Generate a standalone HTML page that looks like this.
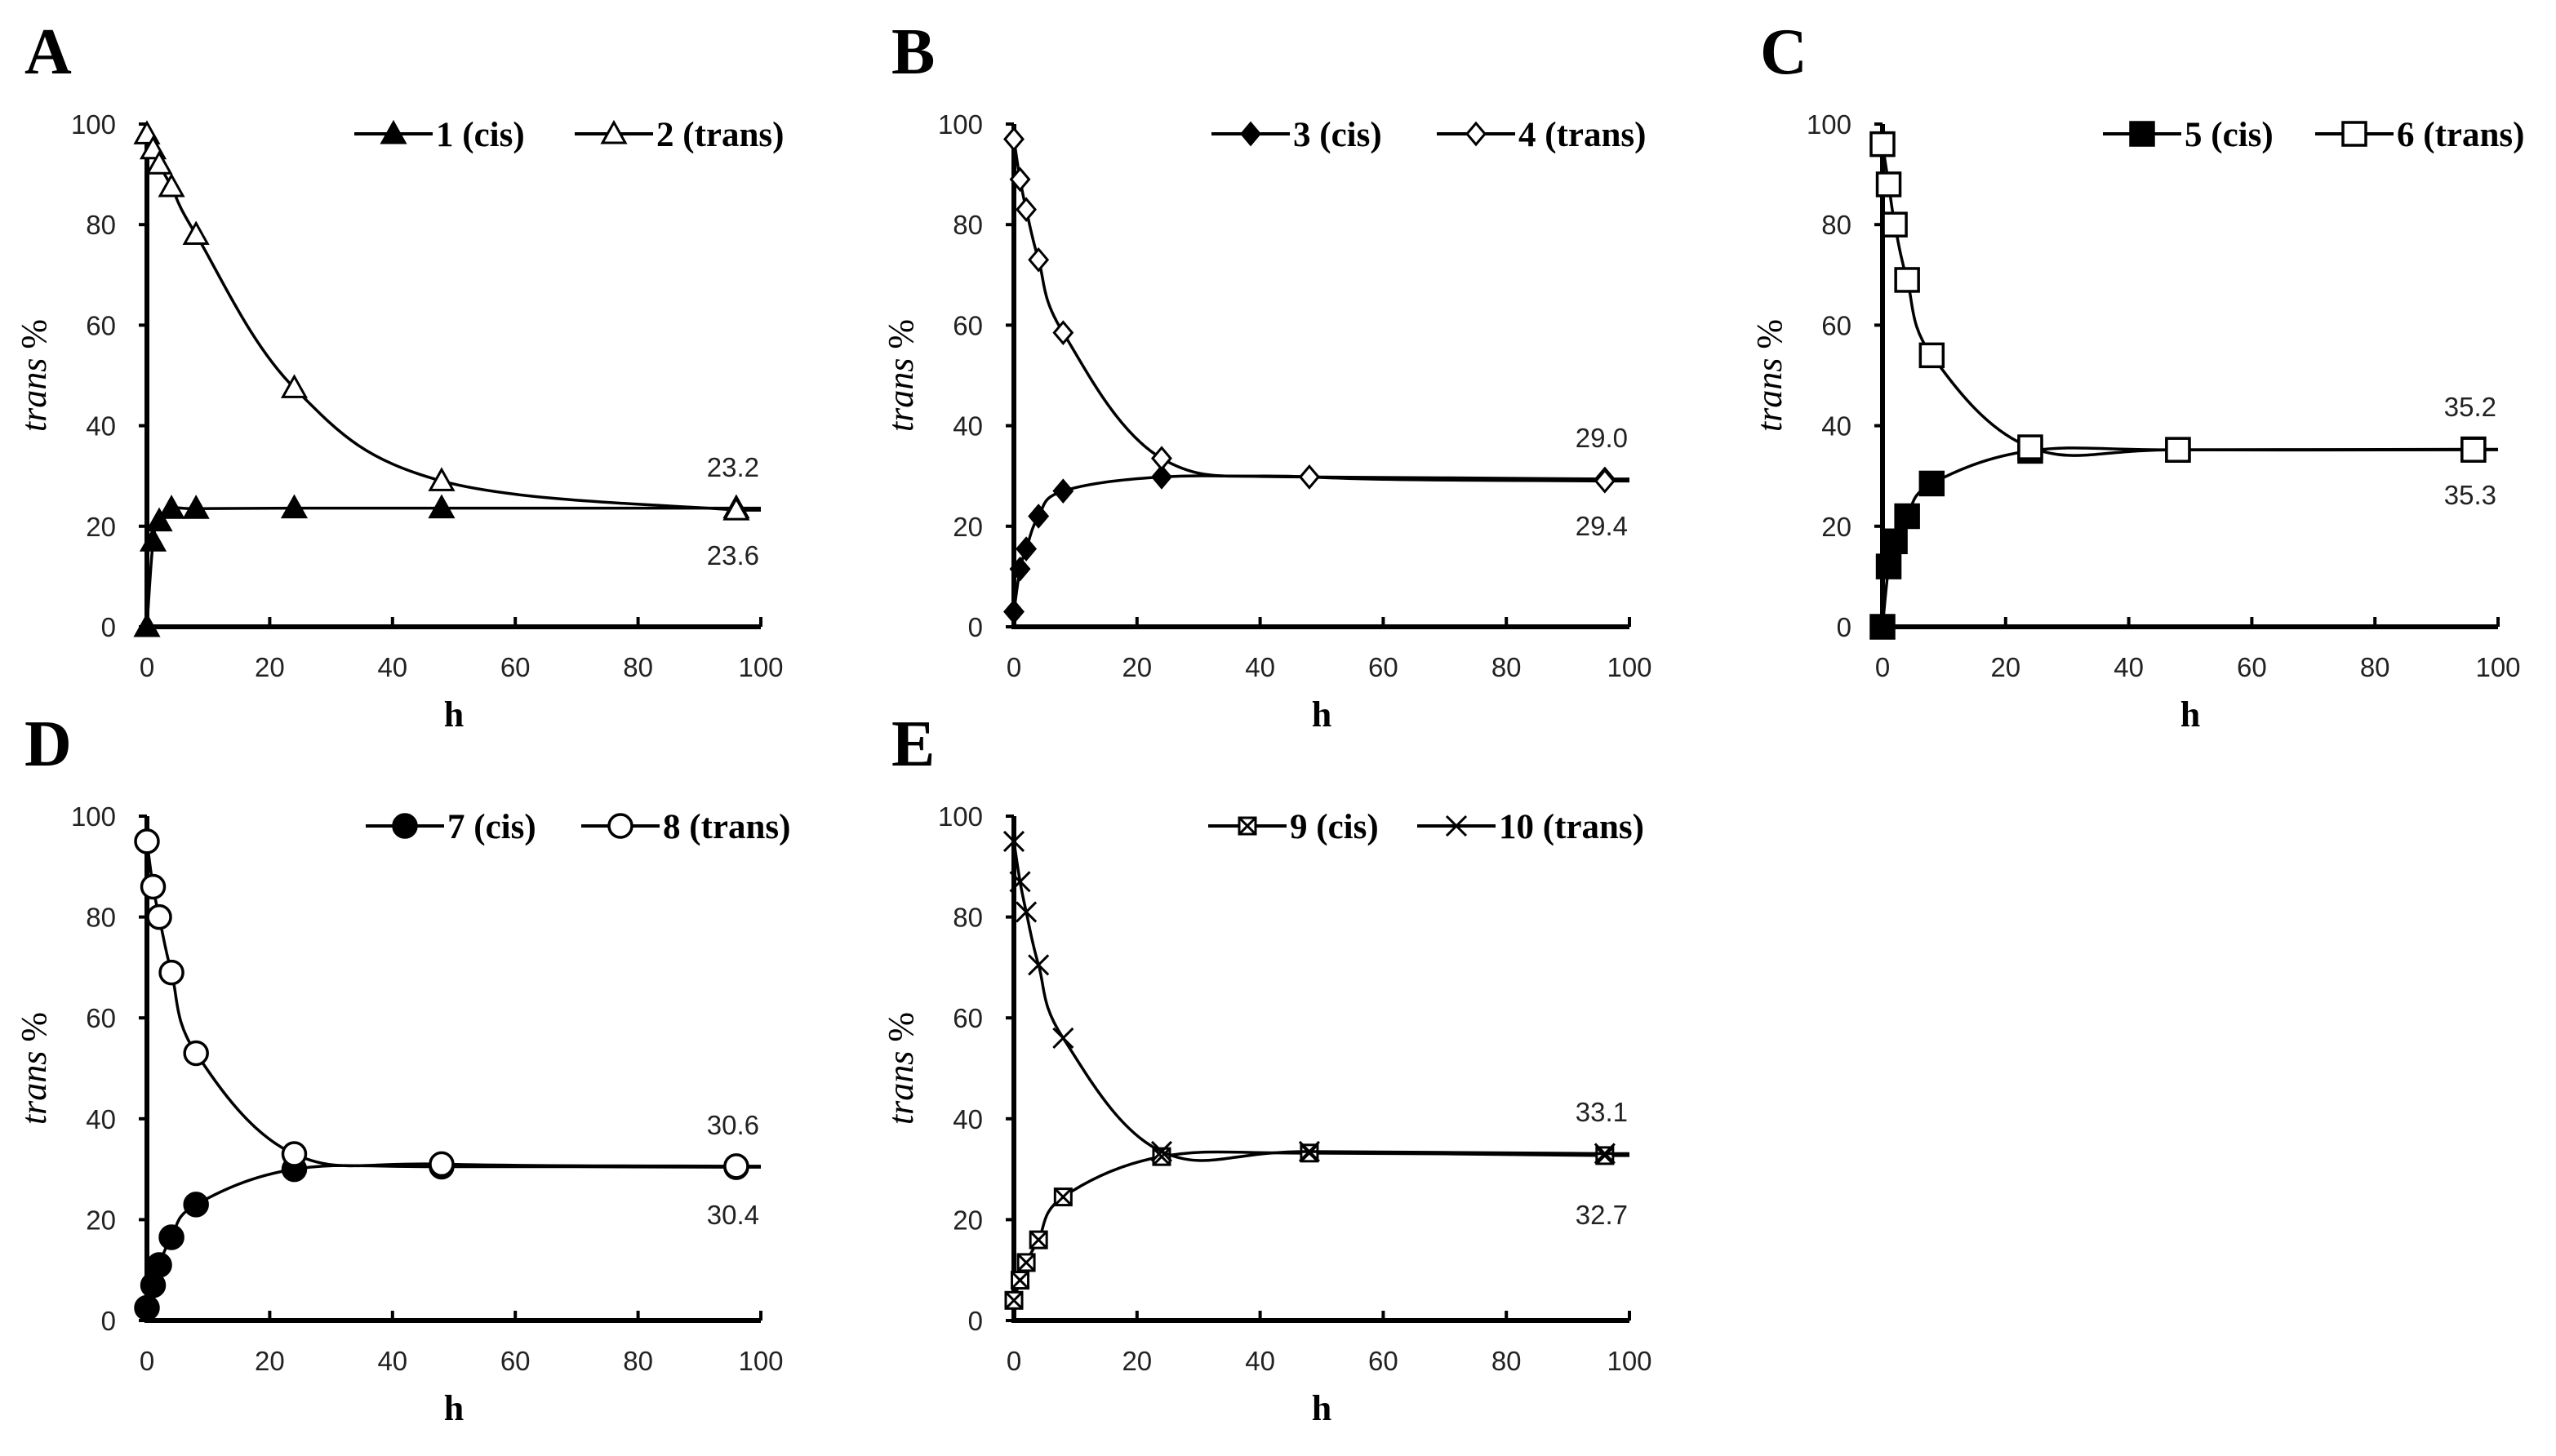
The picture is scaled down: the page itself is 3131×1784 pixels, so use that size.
<!DOCTYPE html>
<html><head><meta charset="utf-8">
<style>
html,body{margin:0;padding:0;background:#fff;}
svg{display:block;}
</style></head>
<body>
<svg id="fig" width="3131" height="1784" viewBox="0 0 3131 1784" xmlns="http://www.w3.org/2000/svg">
</svg>
<script>
const hours = [0,1,2,4,8,24,48,96];
const xTicks = [0,20,40,60,80,100];
const yTicks = [0,20,40,60,80,100];
const panelLetters = ['A','B','C','D','E'];
const cisLabels = ['1 (cis)','3 (cis)','5 (cis)','7 (cis)','9 (cis)'];
const transLabels = ['2 (trans)','4 (trans)','6 (trans)','8 (trans)','10 (trans)'];
const cisA = [0,17,21,23.5,23.5,23.6,23.6,23.6];
const transA = [98,95,92,87.5,78,47.5,29,23.2];
const cisB = [3,11.5,15.5,22,27,29.8,29.8,29.4];
const transB = [97,89,83,73,58.5,33.5,29.8,29.0];
const cisC = [0,12,17,22,28.5,35,35.2,35.3];
const transC = [96,88,80,69,54,35.7,35.2,35.2];
const cisD = [2.5,7,11,16.5,23,30,30.5,30.4];
const transD = [95,86,80,69,53,33,31,30.6];
const cisE = [4,8,11.5,16,24.5,32.5,33.2,32.7];
const transE = [95,87,81,70.5,56,33.5,33.5,33.1];
const endCis = ['23.6','29.4','35.3','30.4','32.7'];
const endTrans = ['23.2','29.0','35.2','30.6','33.1'];

const NS='http://www.w3.org/2000/svg';
const svg=document.getElementById('fig');
function mk(tag,attrs,parent){const e=document.createElementNS(NS,tag);for(const k in attrs)e.setAttribute(k,attrs[k]);(parent||svg).appendChild(e);return e;}

const panels=[
 {x0:180,x1:932,y0:768,y1:152,cis:cisA,trans:transA,mc:'tri',mt:'tri',leg:[434,704],ann:[680,572]},
 {x0:1242,x1:1996,y0:768,y1:152,cis:cisB,trans:transB,mc:'dia',mt:'dia',leg:[1484,1760],ann:[644,536]},
 {x0:2306,x1:3060,y0:768,y1:152,cis:cisC,trans:transC,mc:'sq',mt:'sq',leg:[2576,2836],ann:[606,498]},
 {x0:180,x1:932,y0:1618,y1:1000,cis:cisD,trans:transD,mc:'circ',mt:'circ',leg:[448,712],ann:[1488,1378]},
 {x0:1242,x1:1996,y0:1618,y1:1000,cis:cisE,trans:transE,mc:'sqx',mt:'x',leg:[1480,1736],ann:[1488,1362]}
];

function marker(g,type,x,y,filled){
  const f=filled?'#000':'#fff';
  let e;
  if(type==='tri'){e=mk('polygon',{points:`${x},${y-14} ${x+14},${y+11} ${x-14},${y+11}`,fill:f,stroke:'#000','stroke-width':3},g);}
  else if(type==='dia'){e=mk('polygon',{points:`${x},${y-13} ${x+11},${y} ${x},${y+13} ${x-11},${y}`,fill:f,stroke:'#000','stroke-width':3},g);}
  else if(type==='sq'){e=mk('rect',{x:x-14,y:y-14,width:28,height:28,fill:f,stroke:'#000','stroke-width':3.5},g);}
  else if(type==='circ'){e=mk('circle',{cx:x,cy:y,r:14,fill:f,stroke:'#000','stroke-width':3.5},g);}
  else if(type==='sqx'){e=mk('g',{},g);mk('rect',{x:x-10,y:y-10,width:20,height:20,fill:'#fff',stroke:'#000','stroke-width':3},e);mk('path',{d:`M${x-10},${y-10}L${x+10},${y+10}M${x+10},${y-10}L${x-10},${y+10}`,stroke:'#000','stroke-width':3},e);}
  else {e=mk('path',{d:`M${x-12},${y-12}L${x+12},${y+12}M${x+12},${y-12}L${x-12},${y+12}`,stroke:'#000','stroke-width':3,fill:'none'},g);}
  return e;
}
function smooth(pts){
  let d=`M${pts[0][0]},${pts[0][1]}`;
  for(let i=0;i<pts.length-1;i++){
    const p0=pts[Math.max(i-1,0)],p1=pts[i],p2=pts[i+1],p3=pts[Math.min(i+2,pts.length-1)];
    const t=0.18;
    const c1=[p1[0]+(p2[0]-p0[0])*t,p1[1]+(p2[1]-p0[1])*t];
    const c2=[p2[0]-(p3[0]-p1[0])*t,p2[1]-(p3[1]-p1[1])*t];
    d+=` C${c1[0]},${c1[1]} ${c2[0]},${c2[1]} ${p2[0]},${p2[1]}`;
  }
  return d;
}

panels.forEach((p,i)=>{
  const g=mk('g',{});
  
  
  const sx=v=>p.x0+(p.x1-p.x0)*v/100;
  const sy=v=>p.y0+(p.y1-p.y0)*v/100;
  const lt=mk('text',{x:p.x0-150,y:p.y1-62,'font-family':'Liberation Serif, serif','font-weight':'bold','font-size':80},g);
  lt.textContent=panelLetters[i];
  
  
  const ax=mk('path',{d:`M${p.x0},${p.y1}L${p.x0},${p.y0}L${p.x1},${p.y0}`,stroke:'#000','stroke-width':6,fill:'none'},g);
  
  
  xTicks.forEach(t=>{
    mk('line',{x1:sx(t),x2:sx(t),y1:p.y0,y2:p.y0-12,stroke:'#000','stroke-width':4},g);
    const tx=mk('text',{x:sx(t),y:p.y0+61,'text-anchor':'middle','font-family':'Liberation Sans, sans-serif','font-size':33,fill:'#222'},g);
    tx.textContent=t;
    
    
  });
  yTicks.forEach(t=>{
    mk('line',{x1:p.x0,x2:p.x0-10,y1:sy(t),y2:sy(t),stroke:'#000','stroke-width':4},g);
    const ty=mk('text',{x:p.x0-38,y:sy(t)+12,'text-anchor':'end','font-family':'Liberation Sans, sans-serif','font-size':33,fill:'#222'},g);
    ty.textContent=t;
    
    
  });
  const xl=mk('text',{x:(p.x0+p.x1)/2,y:p.y0+122,'text-anchor':'middle','font-family':'Liberation Serif, serif','font-weight':'bold','font-size':44},g);
  xl.textContent='h';
  
  
  const cy=(p.y0+p.y1)/2;
  const yl=mk('text',{x:p.x0-124,y:cy,transform:`rotate(-90 ${p.x0-124} ${cy})`,'text-anchor':'middle','font-family':'Liberation Serif, serif','font-size':44},g);
  yl.innerHTML='<tspan font-style="italic">trans</tspan> %';
  
  
  [['cis',p.cis,p.mc],['trans',p.trans,p.mt]].forEach(([nm,vals,m])=>{
    const pts=hours.map((h,k)=>[sx(h),sy(vals[k])]);
    const line=mk('path',{d:smooth(pts)+` L${p.x1},${pts[pts.length-1][1]}`,stroke:'#000','stroke-width':3.5,fill:'none'},g);
    
    
    pts.forEach(q=>{
      const mm=marker(g,m,q[0],q[1],nm==='cis');
      
      
    });
  });
  const ly=p.y1+12;
  [[p.leg[0],p.mc,cisLabels[i],true],[p.leg[1],p.mt,transLabels[i],false]].forEach(([lx,m,lab,filled])=>{
    const lg=mk('g',{},g);
    
    
    mk('line',{x1:lx,x2:lx+96,y1:ly,y2:ly,stroke:'#000','stroke-width':4},lg);
    marker(lg,m,lx+48,ly,filled);
    const t=mk('text',{x:lx+100,y:ly+15,'font-family':'Liberation Serif, serif','font-weight':'bold','font-size':43},lg);
    t.textContent=lab;
  });
  const a1=mk('text',{x:p.x1-2,y:p.ann[0]+12,'text-anchor':'end','font-family':'Liberation Sans, sans-serif','font-size':33,fill:'#222'},g);
  a1.textContent=endCis[i];
  
  
  const a2=mk('text',{x:p.x1-2,y:p.ann[1]+12,'text-anchor':'end','font-family':'Liberation Sans, sans-serif','font-size':33,fill:'#222'},g);
  a2.textContent=endTrans[i];
  
  
});
</script>
</body></html>
